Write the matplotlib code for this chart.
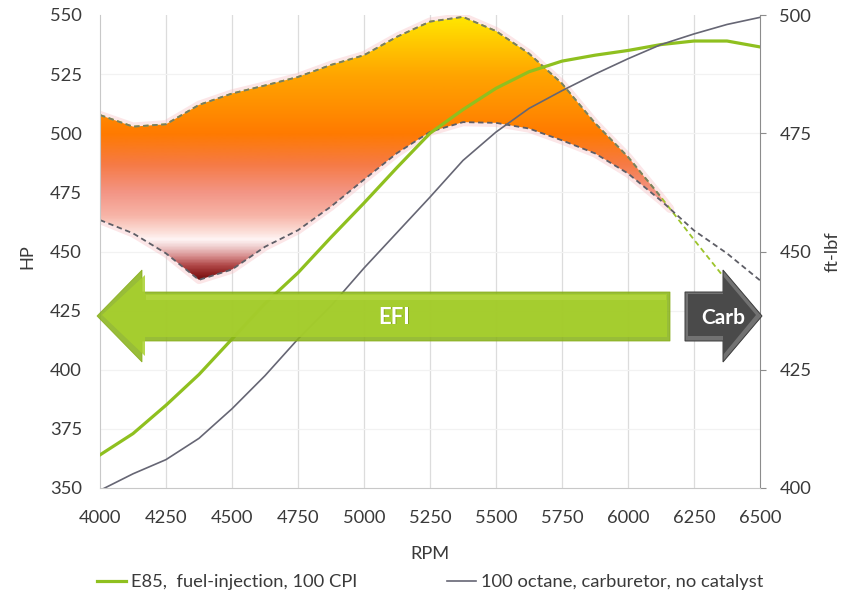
import numpy as np
import matplotlib
matplotlib.use("Agg")
import matplotlib.pyplot as plt
from matplotlib.colors import LinearSegmentedColormap, Normalize
from matplotlib.patches import Polygon, PathPatch

plt.rcParams['font.family'] = ['Lato', 'DejaVu Sans']

# ---------------- data ----------------
rpm = [4000, 4125, 4250, 4375, 4500, 4625, 4750, 4875, 5000, 5125, 5250,
       5375, 5500, 5625, 5750, 5875, 6000, 6125, 6250, 6375, 6500]

hp_e85 = [364, 373, 385, 398, 413, 428, 441, 456, 470.5, 485.5, 500,
          510, 519, 526, 530.5, 533, 535, 537.5, 539, 539, 536.5]
hp_100 = [349, 356, 362, 371, 383.5, 397.5, 413, 427, 443, 458, 473,
          488.5, 500.5, 510.5, 518, 525, 531.5, 537.5, 542, 546, 549]

tq_e85 = [478.85, 476.4, 476.9, 481.0, 483.4, 485.1, 486.9, 489.45, 491.5, 495.4, 498.6,
          499.6, 496.6, 491.85, 485.5, 477.15, 470.0, 461.5, 452.5, 443.75, np.nan]
tq_100 = [456.65, 453.85, 449.6, 444.0, 446.2, 451.0, 454.5, 459.5, 465.2, 470.8, 475.3,
          477.35, 477.2, 476.0, 473.5, 470.75, 466.5, 460.75, 454.45, 449.6, 443.9]

hp_ticks = [350, 375, 400, 425, 450, 475, 500, 525, 550]
tq_ticks = [400, 425, 450, 475, 500]
rpm_ticks = [4000, 4250, 4500, 4750, 5000, 5250, 5500, 5750, 6000, 6250, 6500]

label_e85 = "E85,  fuel-injection, 100 CPI"
label_100 = "100 octane, carburetor, no catalyst"

# ---------------- figure ----------------
W, H = 847, 595
fig = plt.figure(figsize=(W / 100, H / 100), dpi=100)
L, R, T, B = 100, 760, 15, 488
ax = fig.add_axes([L / W, 1 - B / H, (R - L) / W, (B - T) / H])
ax2 = ax.twinx()
ax.set_zorder(ax2.get_zorder() + 1)
ax.patch.set_visible(False)

x = np.array(rpm, dtype=float)
te = np.array(tq_e85, dtype=float)
t1 = np.array(tq_100, dtype=float)

ax.set_xlim(4000, 6500)
ax.set_ylim(350, 550)
ax2.set_xlim(4000, 6500)
ax2.set_ylim(400, 500)

FS = 13.2
TXT = '#3a3a3a'

# grid (on the back axes, below the fill)
for r in rpm_ticks[1:-1]:
    ax2.axvline(r, color='#dcdcdc', lw=0.9, zorder=0)
for h in tq_ticks[1:-1] + [412.5, 437.5, 462.5, 487.5]:
    ax2.axhline(h, color='#f2f2f2', lw=0.9, zorder=0)

# spines
for a in (ax, ax2):
    a.spines['top'].set_visible(False)
ax.spines['left'].set_color('#c8c8c8')
ax.spines['bottom'].set_color('#c8c8c8')
ax2.spines['left'].set_visible(False)
ax2.spines['bottom'].set_visible(False)
ax.spines['right'].set_visible(False)
ax2.spines['right'].set_color('#8c8c8c')

ax.set_xticks(rpm_ticks)
ax.set_yticks(hp_ticks)
ax2.set_yticks(tq_ticks)
ax.tick_params(axis='x', length=0, pad=16, labelsize=FS, labelcolor=TXT)
ax.tick_params(axis='y', length=0, pad=13, labelsize=FS, labelcolor=TXT)
ax2.tick_params(axis='y', length=4, width=0.8, color='#8c8c8c', pad=10, labelsize=FS,
                labelcolor=TXT)

ax.set_xlabel('RPM', fontsize=FS, color=TXT)
ax.xaxis.set_label_coords(0.5, (B - 546) / (B - T))
ax.set_ylabel('HP', fontsize=FS, color=TXT)
ax.yaxis.set_label_coords((35 - L) / (R - L), 0.49)
ax2.set_ylabel('ft-lbf', fontsize=FS, color=TXT, rotation=90)
ax2.yaxis.set_label_coords((825 - L) / (R - L), 0.50)

# ---------------- gradient fill between torque curves ----------------
where = np.nan_to_num(te, nan=-1) >= t1
ax2.fill_between(x, t1, te, where=where, interpolate=True,
                 facecolor='none', edgecolor=(0.97, 0.72, 0.74, 0.35),
                 lw=6, zorder=2)
poly = ax2.fill_between(x, t1, te, where=where, interpolate=True,
                        facecolor='none', edgecolor='none', zorder=3)
stops = [(443.0, '#5a0505'), (445.0, '#8a1c1c'), (447.0, '#b04848'),
         (449.0, '#d89090'), (451.0, '#f0d0d0'), (452.5, '#fff5f5'),
         (454.0, '#fce0da'), (457.5, '#f7b5a8'), (462.5, '#f39585'),
         (468.5, '#f67a45'), (475.0, '#ff7a00'), (480.0, '#ff8c00'),
         (487.5, '#ffa500'), (495.0, '#ffcc00'), (500.0, '#ffe800')]
lo, hi = stops[0][0], stops[-1][0]
cmap = LinearSegmentedColormap.from_list(
    'grad', [((v - lo) / (hi - lo), c) for v, c in stops])
yy = np.linspace(400, 500, 600).reshape(-1, 1)
img = ax2.imshow(yy, extent=[4000, 6500, 400, 500], origin='lower', aspect='auto',
                 cmap=cmap, norm=Normalize(lo, hi), zorder=3, interpolation='bilinear')
for p in poly.get_paths():
    patch = PathPatch(p, transform=ax2.transData, facecolor='none', edgecolor='none')
    ax2.add_patch(patch)
    img.set_clip_path(patch)
ax2.set_xlim(4000, 6500)
ax2.set_ylim(400, 500)

# torque lines (dashed)
xc = 6185
te_fill = np.where(x <= xc + 1, te, np.nan)
ax2.plot(x, te, color='#9cc42a', lw=1.3, ls=(0, (3, 2)), zorder=4)
ax2.plot(x, te_fill, color='#7a7a66', lw=1.3, ls=(0, (3, 2)), zorder=5)
ax2.plot(x, t1, color='#5e5e66', lw=1.3, ls=(0, (3, 2)), zorder=5)

# HP lines
l1, = ax.plot(x, hp_e85, color='#8fc01f', lw=2.3, zorder=3, label=label_e85)
l2, = ax.plot(x, hp_100, color='#666674', lw=1.2, zorder=3, label=label_100)


# ---------------- arrows (annotations, axes coords) ----------------
def fx(px):
    return (px - L) / (R - L)


def fy(py):
    return (B - py) / (B - T)


def arrow_pts(tail_x, back_x, tip_x, top, bot, htop, hbot, mid):
    return [(fx(tail_x), fy(top)), (fx(back_x), fy(top)), (fx(back_x), fy(htop)),
            (fx(tip_x), fy(mid)), (fx(back_x), fy(hbot)), (fx(back_x), fy(bot)),
            (fx(tail_x), fy(bot))]


# EFI arrow (points left)
efi_outer = arrow_pts(670, 142, 97, 292, 341, 270, 362, 316)
efi_inner = arrow_pts(667, 145, 102, 294, 337, 275, 356, 315)
ax.add_patch(Polygon(efi_outer, closed=True, transform=ax.transAxes, clip_on=False,
                     facecolor='#8ab41c', edgecolor='#86ab1a', lw=0.6, zorder=7, alpha=0.88))
ax.add_patch(Polygon(efi_inner, closed=True, transform=ax.transAxes, clip_on=False,
                     facecolor='#a8d02e', edgecolor='none', zorder=7, alpha=0.85))
ax.add_patch(Polygon([(fx(146), fy(295)), (fx(666), fy(295)), (fx(666), fy(300)),
                      (fx(146), fy(300))], closed=True, transform=ax.transAxes,
                     clip_on=False, facecolor='#bcdc4c', edgecolor='none', zorder=7, alpha=0.5))
ax.text(fx(395), fy(318), 'EFI', transform=ax.transAxes, ha='center', va='center',
        fontsize=16, fontweight='bold', color='#5f7a10', zorder=8, alpha=0.45)
ax.text(fx(394), fy(317), 'EFI', transform=ax.transAxes, ha='center', va='center',
        fontsize=16, fontweight='bold', color='white', zorder=8)

# Carb arrow (points right)
carb_outer = arrow_pts(685, 723, 762, 292, 341, 270, 362, 316)
carb_inner = arrow_pts(688, 723, 756, 294, 336, 276, 355, 315)
ax.add_patch(Polygon(carb_outer, closed=True, transform=ax.transAxes, clip_on=False,
                     facecolor='#727272', edgecolor='#3a3a3a', lw=0.7, zorder=7))
ax.add_patch(Polygon(carb_inner, closed=True, transform=ax.transAxes, clip_on=False,
                     facecolor='#4a4a4a', edgecolor='none', zorder=7))
ax.text(fx(723), fy(318), 'Carb', transform=ax.transAxes, ha='center', va='center',
        fontsize=15, fontweight='bold', color='white', zorder=8)

# ---------------- legend ----------------
leg = fig.legend(handles=[l1, l2], labels=[label_e85, label_100], loc='center left',
                 bbox_to_anchor=(97 / W, 1 - 582 / H), ncol=2, frameon=False,
                 fontsize=FS, handlelength=1.6, handletextpad=0.25, columnspacing=4.9,
                 borderpad=0, borderaxespad=0)
for t in leg.get_texts():
    t.set_color(TXT)

fig.savefig('out.png', dpi=100)
